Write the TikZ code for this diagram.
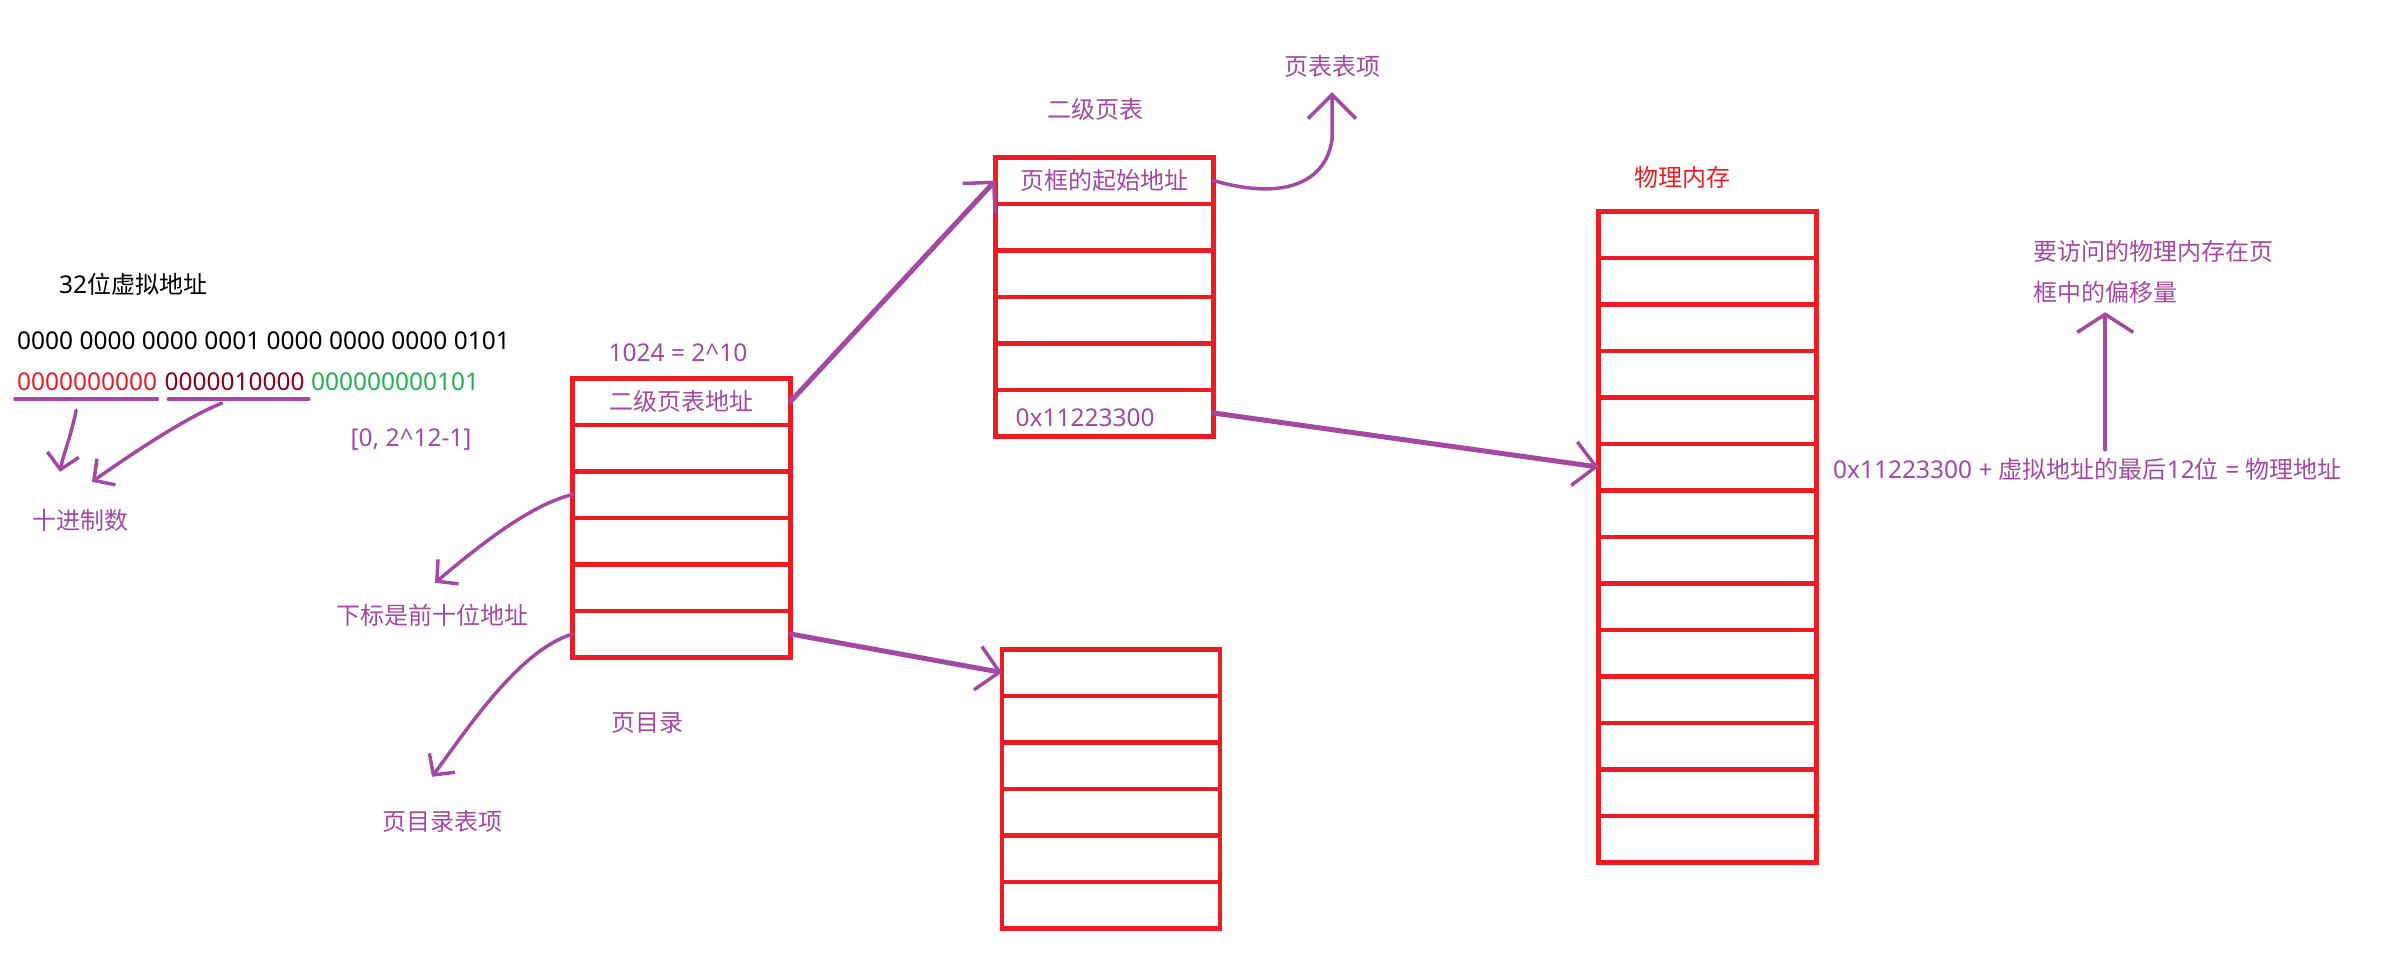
\documentclass[tikz,border=0pt]{standalone}
\usepackage{fontspec}
\setmainfont{Noto Sans}[Scale=1.02]
\newfontfamily\cjk{Noto Sans CJK SC}
\usetikzlibrary{arrows.meta,positioning}
\definecolor{boxred}{HTML}{ED1C24}
\definecolor{penpurple}{HTML}{A349A4}
\definecolor{darkred}{HTML}{880015}
\definecolor{bitgreen}{HTML}{22B14C}

\begin{document}
\begin{tikzpicture}[
  x=1pt, y=-1pt, font=\fontsize{24}{29}\selectfont,
  cell/.style={draw=boxred,line width=4.5pt,minimum width=218pt,minimum height=46.5pt,
    inner sep=0pt,outer sep=0pt,text=penpurple},
  lbl/.style={inner sep=0pt,text height=17.5pt,text depth=0.5pt,text=penpurple},
  pen/.style={draw=penpurple,line width=3.5pt,line cap=round,line join=round},
  big/.style={pen,line width=5pt,-{Straight Barb[length=22pt,width=44pt,line width=3.5pt]}},
  hand/.style={pen,-{Straight Barb[length=15pt,width=32pt]}}]
\useasboundingbox (0,0) rectangle (2394,959);

% page directory
\node[cell] (pd1) at (681.5,401.5) {\cjk 二级页表地址};
\foreach \i [remember=\i as \j (initially 1)] in {2,...,6}
  \node[cell,below=0pt of pd\j] (pd\i) {};
% second level page table
\node[cell] (pt1) at (1104.5,180.5) {\cjk 页框的起始地址};
\foreach \i [remember=\i as \j (initially 1)] in {2,...,6}
  \node[cell,below=0pt of pt\j] (pt\i) {};
\node[lbl,anchor=west] (pfn) at ([shift={(20pt,-5pt)}]pt6.west) {0x11223300};
% another page table
\node[cell] (pu1) at (1111,672.5) {};
\foreach \i [remember=\i as \j (initially 1)] in {2,...,6}
  \node[cell,below=0pt of pu\j] (pu\i) {};
% physical memory
\node[cell] (pm1) at (1707.5,234.5) {};
\foreach \i [remember=\i as \j (initially 1)] in {2,...,14}
  \node[cell,below=0pt of pm\j] (pm\i) {};

% labels
\node[lbl,text=black,anchor=west] (va) at (59,285) {32{\cjk 位虚拟地址}};
\node[lbl,text=black,anchor=west] (bits) at (17,341) {0000 0000 0000 0001 0000 0000 0000 0101};
\node[lbl,text=boxred,anchor=west] (d1) at (17,382) {0000000000};
\node[lbl,text=darkred,right=7pt of d1] (d2) {0000010000};
\node[lbl,text=bitgreen,right=6pt of d2] (d3) {000000000101};
\node[lbl] (rng) at (411,438) {[0, 2\textasciicircum12-1]};
\node[lbl] (dec) at (80,521) {\cjk 十进制数};
\node[lbl] (sub) at (432,616) {\cjk 下标是前十位地址};
\node[lbl] (pde) at (442,822) {\cjk 页目录表项};
\node[lbl] (pdname) at (647,723) {\cjk 页目录};
\node[lbl] (cnt) at (678,353) {1024 = 2\textasciicircum10};
\node[lbl] (ptname) at (1095,110) {\cjk 二级页表};
\node[lbl] (pte) at (1332,67) {\cjk 页表表项};
\node[lbl,text=boxred] (pmname) at (1682,178) {\cjk 物理内存};
\node[lbl,anchor=west] (fx) at (1833,470) {0x11223300 + {\cjk 虚拟地址的最后}12{\cjk 位} = {\cjk 物理地址}};
\node[lbl,anchor=west] (off1) at (2033,252) {\cjk 要访问的物理内存在页};
\node[lbl,anchor=west] (off2) at (2033,293) {\cjk 框中的偏移量};

% underlines and arrows
\draw[pen] ([shift={(-2pt,-8pt)}]d1.south west) -- ([yshift=-8pt]d1.south east);
\draw[pen] ([shift={(4pt,-8pt)}]d2.south west) -- ([shift={(4pt,-8pt)}]d2.south east);
\draw[hand] ([shift={(-11pt,-19pt)}]d1.south) .. controls (70,440) and (63,455) .. ([shift={(-20pt,40pt)}]dec.north);
\draw[hand] ([shift={(-13pt,-12pt)}]d2.south) .. controls (185,418) and (130,455) .. ([shift={(12pt,30pt)}]dec.north);
\draw[big] (pd1.east) -- (pt1.west);
\draw[big] (pd6.east) -- (pu1.west);
\draw[big] (pt6.east) -- (pm6.west);
\draw[pen,-{Straight Barb[length=24pt,width=48pt]}] (pt1.east) .. controls (1280,200) and (1325,185) .. (1332,140) -- ([yshift=-16pt]pte.south);
\draw[hand] (pd3.west) .. controls (530,505) and (480,545) .. ([shift={(3pt,24pt)}]sub.north);
\draw[hand] (pd6.west) .. controls (520,650) and (470,725) .. ([shift={(-10pt,36pt)}]pde.north);
\draw[pen,-{Straight Barb[length=18pt,width=56pt]},shorten <=11pt,shorten >=10pt] (off2.south |- fx.north) -- (off2.south);
\end{tikzpicture}
\end{document}
